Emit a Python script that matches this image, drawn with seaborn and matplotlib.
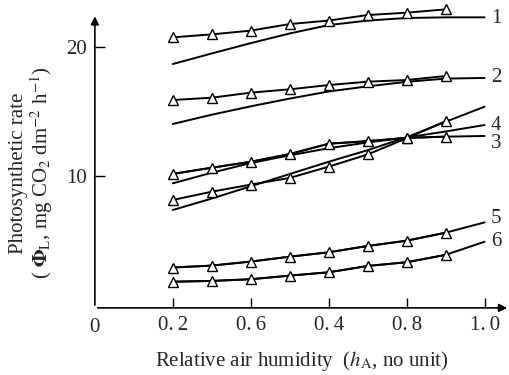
import matplotlib
matplotlib.use('Agg')
import matplotlib.pyplot as plt
import seaborn as sns
import pandas as pd

# humidity grid (measured points and curve points)
hum_pts = [0.2, 0.3, 0.4, 0.5, 0.6, 0.7, 0.8, 0.9]
hum_line = [0.2, 0.3, 0.4, 0.5, 0.6, 0.7, 0.8, 0.9, 1.0]

# measured photosynthetic rate (triangles)
rate1_pts = [20.75, 20.98, 21.27, 21.78, 22.05, 22.48, 22.66, 22.92]
rate2_pts = [15.89, 16.07, 16.46, 16.72, 17.05, 17.31, 17.44, 17.75]
rate3_pts = [10.16, 10.64, 11.1, 11.7, 12.5, 12.7, 12.95, 13.05]
rate4_pts = [8.14, 8.78, 9.33, 9.85, 10.72, 11.67, 12.92, 14.25]
rate5_pts = [2.9, 3.05, 3.36, 3.74, 4.08, 4.57, 4.98, 5.6]
rate6_pts = [1.8, 1.86, 1.99, 2.27, 2.53, 3.02, 3.31, 3.88]

# curves running to h = 1.0
curve1 = [18.68, 19.5, 20.3, 21.05, 21.7, 22.05, 22.25, 22.3, 22.3]
curve2 = [14.03, 14.75, 15.4, 16.0, 16.55, 16.95, 17.3, 17.55, 17.6]
curve3 = [10.16, 10.64, 11.1, 11.7, 12.5, 12.7, 12.95, 13.05, 13.1]
curve4 = [9.43, 10.25, 11.0, 11.6, 12.15, 12.6, 12.98, 13.45, 13.95]
curve4b = [7.36, 8.25, 9.2, 10.15, 11.1, 12.0, 13.0, 14.2, 15.37]
curve5 = [2.9, 3.05, 3.36, 3.74, 4.08, 4.57, 4.98, 5.6, 6.4]
curve6 = [1.8, 1.86, 1.99, 2.27, 2.53, 3.02, 3.31, 3.88, 4.9]

curve_labels = ['1', '2', '3', '4', '5', '6']
label_y = [22.2, 17.6, 12.5, 13.9, 6.7, 4.9]

xtick_pos = [0.2, 0.4, 0.6, 0.8, 1.0]
xtick_text = ['0.\u20092', '0.\u20096', '0.\u20094', '0.\u20098', '1.\u20090']

sns.set_style('white')
plt.rcParams['font.family'] = ['Liberation Serif', 'DejaVu Serif']
plt.rcParams['mathtext.fontset'] = 'stix'

fig = plt.figure(figsize=(5.1, 3.75), dpi=100)
ax = fig.add_axes([0.186, 0.179, 0.81, 0.816])

pts = [rate1_pts, rate2_pts, rate3_pts, rate4_pts, rate5_pts, rate6_pts]
for r in pts:
    sns.lineplot(x=hum_pts, y=r, ax=ax, color='black', lw=1.4, marker='^',
                 markersize=7, markerfacecolor='white', markeredgecolor='black',
                 markeredgewidth=1.0, clip_on=False, zorder=3)

for c in [curve1, curve2, curve3, curve4, curve4b, curve5, curve6]:
    sns.lineplot(x=hum_line, y=c, ax=ax, color='black', lw=1.4, clip_on=False, zorder=2)

for t, y in zip(curve_labels, label_y):
    ax.text(1.03, y, t, fontsize=15, va='center', ha='center')

ax.set_xlim(0, 1.06)
ax.set_ylim(-0.23, 23.5)
for s in ax.spines.values():
    s.set_visible(False)

# axes with arrow heads
ax.annotate('', xy=(0, 22.6), xytext=(0, -0.23),
            arrowprops=dict(arrowstyle='-|>', color='black', lw=1.2, mutation_scale=12),
            annotation_clip=False)
ax.annotate('', xy=(1.065, -0.23), xytext=(0, -0.23),
            arrowprops=dict(arrowstyle='-|>', color='black', lw=1.2, mutation_scale=12),
            annotation_clip=False)

ax.set_xticks(xtick_pos)
ax.set_xticklabels(xtick_text)
ax.set_yticks([10, 20])
ax.tick_params(axis='both', direction='in', length=7, width=1, labelsize=15, color='black',
               left=True, bottom=True, pad=6)
ax.text(0, -1.0, '0', fontsize=15, ha='center', va='top')

ax.set_xlabel(r'Relative air humidity  ($h_{\rm A}$, no unit)', fontsize=15, labelpad=10)
ax.set_ylabel('Photosynthetic rate\n' + r'( $\mathbf{\Phi}_{\rm L}$, mg CO$_2$ dm$^{-2}$ h$^{-1}$)',
              fontsize=15, linespacing=1.0)
ax.yaxis.set_label_coords(-0.097, 0.44)

plt.savefig('out.png', dpi=100)
